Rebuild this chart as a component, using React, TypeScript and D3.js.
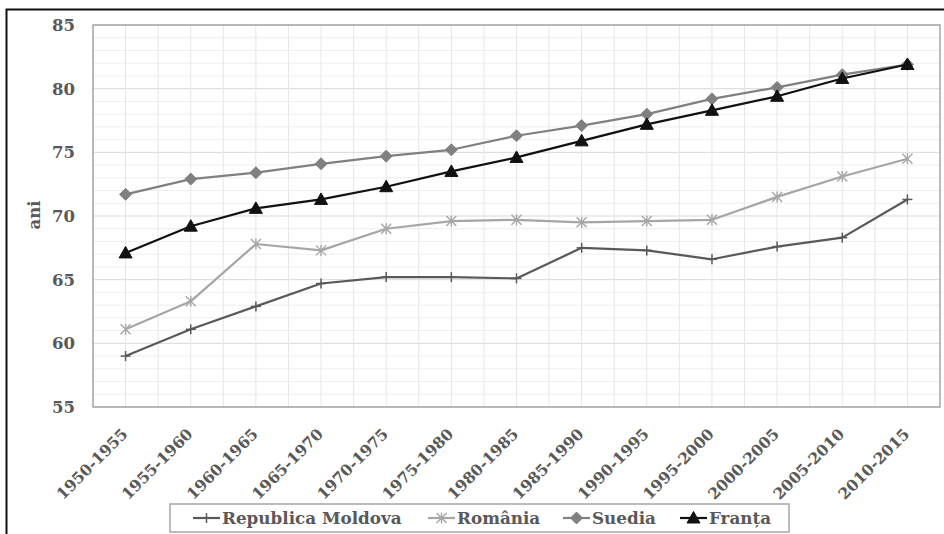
import React from "react";
import * as d3 from "d3";

const categories = ["1950-1955","1955-1960","1960-1965","1965-1970","1970-1975","1975-1980","1980-1985","1985-1990","1990-1995","1995-2000","2000-2005","2005-2010","2010-2015"];
const moldova = [59.0, 61.1, 62.9, 64.7, 65.2, 65.2, 65.1, 67.5, 67.3, 66.6, 67.6, 68.3, 71.3];
const romania = [61.1, 63.3, 67.8, 67.3, 69.0, 69.6, 69.7, 69.5, 69.6, 69.7, 71.5, 73.1, 74.5];
const suedia = [71.7, 72.9, 73.4, 74.1, 74.7, 75.2, 76.3, 77.1, 78.0, 79.2, 80.1, 81.1, 81.9];
const franta = [67.1, 69.2, 70.6, 71.3, 72.3, 73.5, 74.6, 75.9, 77.2, 78.3, 79.4, 80.8, 81.9];
const yTicks = [55, 60, 65, 70, 75, 80, 85];
const seriesNames = ["Republica Moldova", "România", "Suedia", "Franța"];

const W = 944, H = 534;
const L = 93, R = 940, T = 25, B = 407;
const FONT = "'DejaVu Serif', serif";

type Kind = "plus" | "star" | "diamond" | "triangle";
const series: { name: string; values: number[]; color: string; kind: Kind }[] = [
  { name: seriesNames[0], values: moldova, color: "#595959", kind: "plus" },
  { name: seriesNames[1], values: romania, color: "#a6a6a6", kind: "star" },
  { name: seriesNames[2], values: suedia, color: "#808080", kind: "diamond" },
  { name: seriesNames[3], values: franta, color: "#111111", kind: "triangle" },
];

function Marker({ kind, x, y, color }: { kind: Kind; x: number; y: number; color: string }) {
  if (kind === "plus") {
    return (
      <g stroke={color} strokeWidth={1.5}>
        <line x1={x} x2={x} y1={y - 5} y2={y + 5} />
        <line x1={x - 5} x2={x + 5} y1={y} y2={y} />
      </g>
    );
  }
  if (kind === "star") {
    return (
      <g stroke={color} strokeWidth={1.4}>
        <line x1={x} x2={x} y1={y - 5.5} y2={y + 5.5} />
        <line x1={x - 5} x2={x + 5} y1={y - 5} y2={y + 5} />
        <line x1={x - 5} x2={x + 5} y1={y + 5} y2={y - 5} />
      </g>
    );
  }
  if (kind === "diamond") {
    return <path d={`M${x},${y - 6}L${x + 6},${y}L${x},${y + 6}L${x - 6},${y}Z`} fill={color} stroke={color} strokeWidth={1} />;
  }
  return <path d={`M${x},${y - 6.5}L${x + 6.5},${y + 5}L${x - 6.5},${y + 5}Z`} fill={color} stroke={color} strokeWidth={1} />;
}

export default function App() {
  const x = d3.scaleBand<string>().domain(categories).range([L, R]);
  const y = d3.scaleLinear().domain([55, 85]).range([B, T]);
  const cx = (c: string) => (x(c) as number) + x.bandwidth() / 2;
  const minor = d3.range(55, 86, 1);
  const vLines: number[] = [];
  categories.forEach((c) => {
    vLines.push(x(c) as number);
    vLines.push(cx(c));
  });
  const line = d3.line<number>().x((_, i) => cx(categories[i])).y((v) => y(v));
  const legendX = [193, 428, 563, 680];

  return (
    <svg width={W} height={H} style={{ position: "absolute", left: 0, top: 0, background: "#fff" }} fontFamily={FONT}>
      <rect x={0} y={0} width={W} height={H} fill="#fff" />
      <rect x={6.5} y={9.5} width={W + 10} height={H + 10} fill="none" stroke="#111" strokeWidth={2} />
      {/* grid */}
      {minor.map((v) => (
        <line key={"m" + v} x1={L} x2={R} y1={y(v)} y2={y(v)} stroke={v % 5 === 0 ? "#d9d9d9" : "#eeeeee"} strokeWidth={1} />
      ))}
      {vLines.map((vx, i) => (
        <line key={"v" + i} x1={vx} x2={vx} y1={T} y2={B} stroke="#e6e6e6" strokeWidth={1} />
      ))}
      <rect x={L} y={T} width={R - L} height={B - T} fill="none" stroke="#a6a6a6" strokeWidth={1.5} />
      {/* y ticks */}
      {yTicks.map((t) => (
        <text key={t} x={75} y={y(t)} dy="0.36em" textAnchor="end" fontSize={16.5} fontWeight="bold" fill="#595959">{t}</text>
      ))}
      <text transform={`translate(40,${(T + B) / 2 - 1}) rotate(-90)`} textAnchor="middle" fontSize={16.5} fontWeight="bold" fill="#595959">ani</text>
      {/* x labels */}
      {categories.map((c) => (
        <text key={c} transform={`translate(${cx(c) + 3},${435}) rotate(-45)`} textAnchor="end" fontSize={15.5} fontWeight="bold" fill="#595959">{c}</text>
      ))}
      {/* series */}
      {series.map((s) => (
        <g key={s.name}>
          <path d={line(s.values) as string} fill="none" stroke={s.color} strokeWidth={2.2} strokeLinejoin="round" />
          {s.values.map((v, i) => (
            <Marker key={i} kind={s.kind} x={cx(categories[i])} y={y(v)} color={s.color} />
          ))}
        </g>
      ))}
      {/* legend */}
      <rect x={170} y={504} width={619} height={28} fill="#fff" stroke="#a6a6a6" strokeWidth={1.5} />
      {series.map((s, i) => (
        <g key={"lg" + s.name}>
          <line x1={legendX[i]} x2={legendX[i] + 27} y1={518} y2={518} stroke={s.color} strokeWidth={2.2} />
          <Marker kind={s.kind} x={legendX[i] + 13.5} y={518} color={s.color} />
          <text x={legendX[i] + 29} y={518} dy="0.36em" fontSize={16.8} fontWeight="bold" fill="#595959">{s.name}</text>
        </g>
      ))}
    </svg>
  );
}
